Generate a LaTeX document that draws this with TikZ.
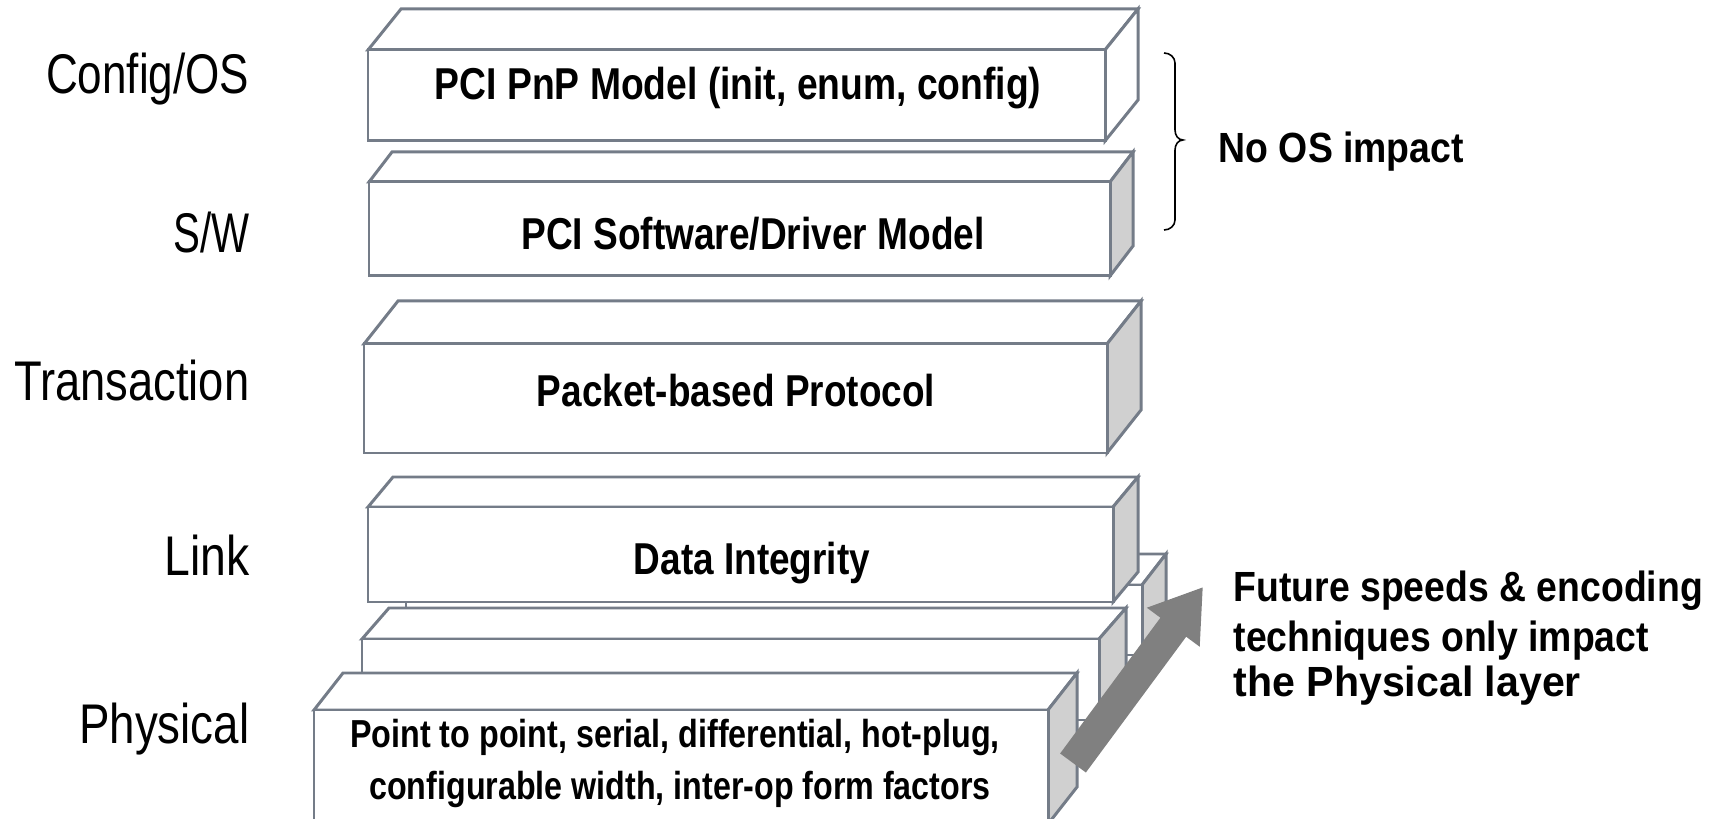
\documentclass[tikz,border=0pt]{standalone}
\usepackage{fontspec}
\setmainfont{Liberation Sans}
\usepackage{graphicx}
\usetikzlibrary{arrows.meta,calc}
\definecolor{edgegray}{RGB}{116,124,136}
\definecolor{sidegray}{RGB}{208,208,208}
\definecolor{arrowgray}{RGB}{128,128,128}
\newcommand\layerbox[7]{%
  \filldraw[edge, fill=white] (#1,#2) -- ++(#5,#6) -- ++({#3-#1},0) -- (#3,#2) -- cycle;
  \filldraw[edge, fill=#7] (#3,#2) -- ++(#5,#6) -- ++(0,{#4-#2}) -- (#3,#4) -- cycle;
  \filldraw[edge, fill=white] (#1,#2) rectangle (#3,#4);
}
\newcommand\fitw[2]{\resizebox{#1}{\height}{#2}}
\tikzset{
  edge/.style={draw=edgegray, line width=0.85pt, line join=miter},
  lbl/.style={inner sep=0pt, anchor=base east, font=\fontsize{15.9}{18}\selectfont},
  boxtxt/.style={inner sep=0pt, anchor=base, font=\bfseries\fontsize{12.7}{15}\selectfont},
  phystxt/.style={inner sep=0pt, anchor=base, font=\bfseries\fontsize{11.1}{13}\selectfont},
  note/.style={inner sep=0pt, anchor=base west, font=\bfseries\fontsize{12}{14}\selectfont},
}
\begin{document}
\begin{tikzpicture}[x=0.01cm, y=-0.01cm]
\useasboundingbox (0,0) rectangle (1715,819);
\clip (0,0) rectangle (1715,819);
% upper layers
\layerbox{368}{50}{1105}{141}{33}{-41}{white}
\layerbox{369}{182}{1110}{276}{23}{-30}{sidegray}
\layerbox{364}{344}{1107}{453}{34}{-43}{sidegray}
% physical back slab
\layerbox{406}{585}{1142}{655}{24}{-31}{sidegray}
% link
\layerbox{368}{507}{1113}{602}{25}{-30}{sidegray}
% physical middle and front slabs
\layerbox{362}{639}{1099}{720}{27}{-31}{sidegray}
\layerbox{314}{710}{1048}{824}{29}{-37}{sidegray}
% arrow
\coordinate (atail) at (1073,763);
\coordinate (atip) at (1203,587);
\draw[arrowgray, line width=0.32cm, -{Triangle[length=0.5cm, width=0.62cm]}] (atail) -- (atip);
% brace
\draw[black, line width=0.45pt] (1164,53) to[out=0,in=90] (1175,63) -- (1175,130)
  to[out=-90,in=180] (1183,140) to[out=180,in=90] (1175,150) -- (1175,220)
  to[out=-90,in=0] (1164,230);
% left labels
\node[lbl] (lconfig) at (250,94) {\fitw{2.03cm}{Config/OS}};
\node[lbl] (lsw) at (250,253) {\fitw{0.76cm}{S/W}};
\node[lbl] (ltrans) at (250,401) {\fitw{2.35cm}{Transaction}};
\node[lbl] (llink) at (250,576) {\fitw{0.85cm}{Link}};
\node[lbl] (lphys) at (250,744) {\fitw{1.70cm}{Physical}};
% box texts
\node[boxtxt] (tpnp) at (738,100) {\fitw{6.06cm}{PCI PnP Model (init, enum, config)}};
\node[boxtxt] (tsw) at (753,250) {\fitw{4.63cm}{PCI Software/Driver Model}};
\node[boxtxt] (ttrans) at (736,407) {\fitw{3.98cm}{Packet-based Protocol}};
\node[boxtxt] (tlink) at (752,575) {\fitw{2.36cm}{Data Integrity}};
\node[phystxt] (tphys1) at (675,748) {\fitw{6.49cm}{Point to point, serial, differential, hot-plug,}};
\node[phystxt] (tphys2) at (680,800) {\fitw{6.21cm}{configurable width, inter-op form factors}};
% notes
\node[note] (noos) at (1218,163) {\fitw{2.45cm}{No OS impact}};
\node[note] (fut1) at (1233,602) {\fitw{4.69cm}{Future speeds \& encoding}};
\node[note] (fut2) at (1233,652) {\fitw{4.15cm}{techniques only impact}};
\node[note] (fut3) at (1233,697) {\fitw{3.47cm}{the Physical layer}};
\end{tikzpicture}
\end{document}
